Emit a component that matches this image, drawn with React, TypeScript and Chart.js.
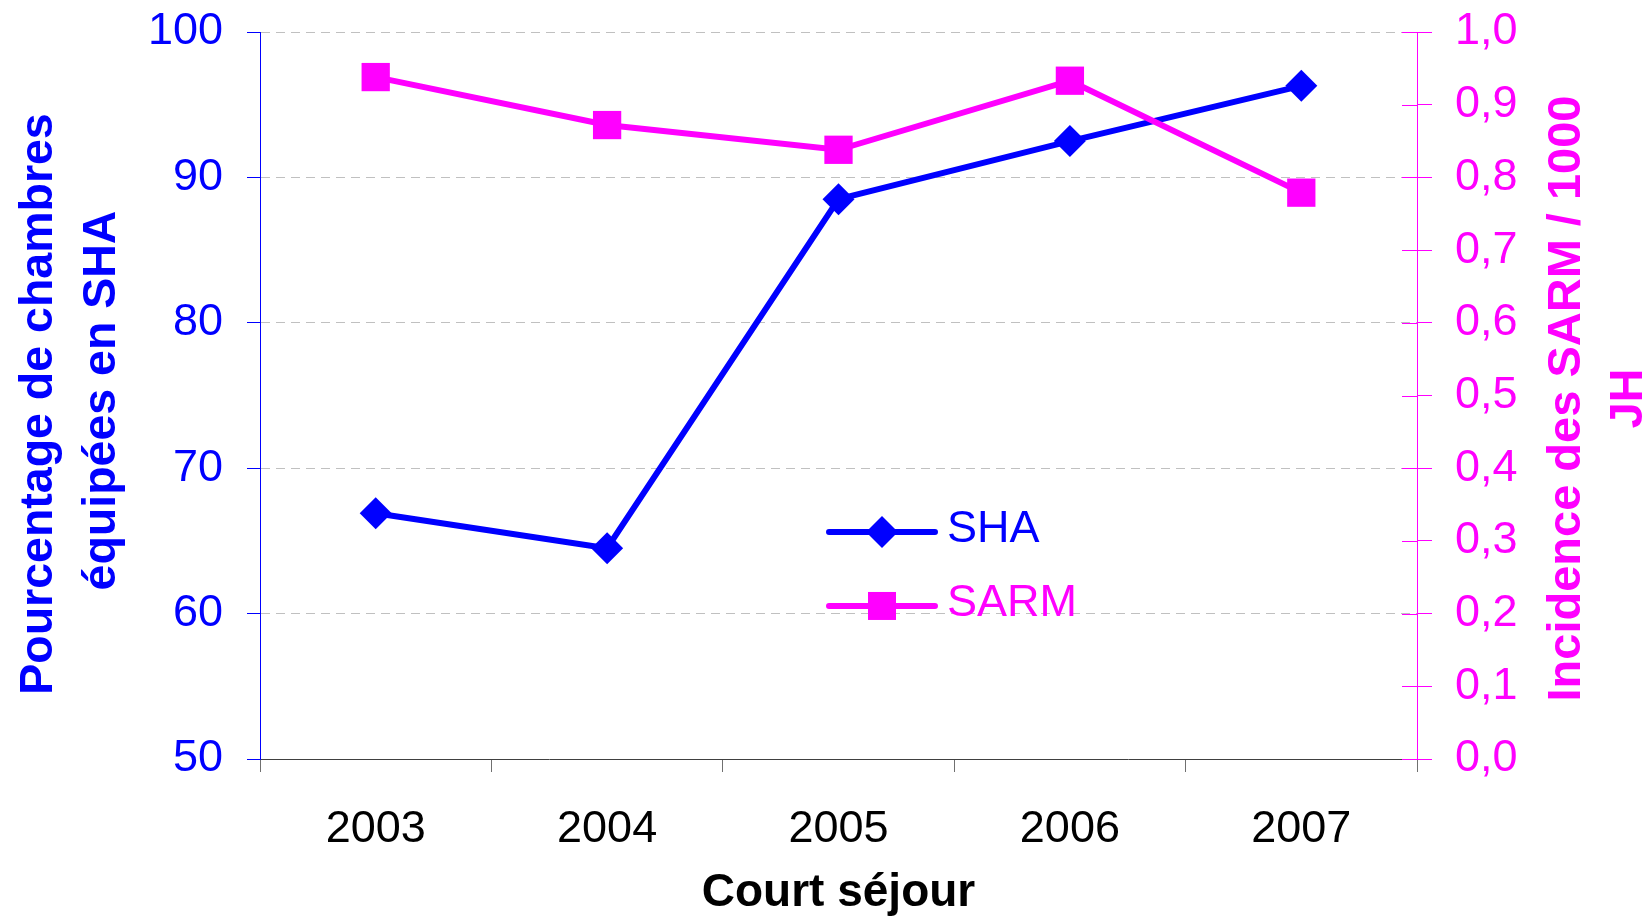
import React, { useEffect, useRef } from 'react';
import { Chart, registerables } from 'chart.js';

Chart.register(...registerables);

const categories = ['2003', '2004', '2005', '2006', '2007'];
const shaValues = [66.9, 64.5, 88.5, 92.5, 96.3];
const sarmValues = [0.938, 0.872, 0.838, 0.933, 0.779];
const seriesNames = ['SHA', 'SARM'];
const leftTitle = ['Pourcentage de chambres', 'équipées en SHA'];
const rightTitle = ['Incidence des SARM / 1000', 'JH'];
const xTitle = 'Court séjour';

const BLUE = '#0000ff';
const MAGENTA = '#ff00ff';
const FONT = "'Liberation Sans', Arial, Helvetica, sans-serif";

function zeroPadding(scale: any) {
  scale.paddingTop = 0;
  scale.paddingBottom = 0;
  scale.paddingLeft = 0;
  scale.paddingRight = 0;
}

function drawVerticalLines(ctx: any, lines: string[], baseXs: number[], centerYs: number[], color: string, font: string) {
  ctx.save();
  ctx.fillStyle = color;
  ctx.font = font;
  ctx.textAlign = 'center';
  ctx.textBaseline = 'alphabetic';
  lines.forEach((line, i) => {
    ctx.save();
    ctx.translate(baseXs[i], centerYs[i]);
    ctx.rotate(-Math.PI / 2);
    ctx.fillText(line, 0, 0);
    ctx.restore();
  });
  ctx.restore();
}

const overlayPlugin = {
  id: 'overlay',
  beforeDatasetsDraw(chart: any) {
    const { ctx, chartArea } = chart;
    const y1 = chart.scales.y1;
    ctx.save();
    ctx.strokeStyle = MAGENTA;
    ctx.lineWidth = 1;
    y1.ticks.forEach((t: any) => {
      const py = Math.round(y1.getPixelForValue(t.value)) + 0.5;
      ctx.beginPath();
      ctx.moveTo(chartArea.right - 15, py);
      ctx.lineTo(chartArea.right, py);
      ctx.stroke();
    });
    ctx.restore();
  },
  afterDatasetsDraw(chart: any) {
    const { ctx, chartArea } = chart;
    const w = chartArea.right - chartArea.left;
    const h = chartArea.bottom - chartArea.top;
    const rows = [
      { name: seriesNames[0], color: BLUE, style: 'diamond', fy: 0.6878 },
      { name: seriesNames[1], color: MAGENTA, style: 'square', fy: 0.7895 },
    ];
    ctx.save();
    rows.forEach((r) => {
      const y = chartArea.top + r.fy * h;
      const x0 = chartArea.left + 0.4918 * w;
      const x1 = chartArea.left + 0.5834 * w;
      const xm = chartArea.left + 0.5376 * w;
      const xt = chartArea.left + 0.5938 * w;
      ctx.strokeStyle = r.color;
      ctx.fillStyle = r.color;
      ctx.lineWidth = 6;
      ctx.lineCap = 'round';
      ctx.beginPath();
      ctx.moveTo(x0, y);
      ctx.lineTo(x1, y);
      ctx.stroke();
      ctx.beginPath();
      if (r.style === 'diamond') {
        ctx.moveTo(xm - 16, y);
        ctx.lineTo(xm, y - 16);
        ctx.lineTo(xm + 16, y);
        ctx.lineTo(xm, y + 16);
        ctx.closePath();
      } else {
        ctx.rect(xm - 14, y - 14, 28, 28);
      }
      ctx.fill();
      ctx.font = `45px ${FONT}`;
      ctx.textAlign = 'left';
      ctx.textBaseline = 'alphabetic';
      ctx.fillText(r.name, xt, y + 10);
    });
    ctx.restore();

    const cy = (chartArea.top + chartArea.bottom) / 2;
    // left axis title (two lines, reading bottom to top)
    drawVerticalLines(ctx, leftTitle, [chartArea.left - 208, chartArea.left - 145], [cy + 8.5, cy + 5], BLUE, `bold 46.5px ${FONT}`);
    // right axis title (two lines, reading bottom to top)
    drawVerticalLines(ctx, rightTitle, [chartArea.right + 163, chartArea.right + 225], [cy + 3, cy + 3], MAGENTA, `bold 47px ${FONT}`);
  },
};

export default function App() {
  const canvasRef = useRef<HTMLCanvasElement | null>(null);

  useEffect(() => {
    const canvas = canvasRef.current;
    if (!canvas) return;
    const chart = new Chart(canvas, {
      type: 'line',
      data: {
        labels: categories,
        datasets: [
          {
            label: seriesNames[0],
            data: shaValues,
            yAxisID: 'y',
            borderColor: BLUE,
            backgroundColor: BLUE,
            borderWidth: 6,
            pointStyle: 'rectRot',
            pointRadius: 16,
            pointHoverRadius: 16,
            pointBorderWidth: 0,
            pointBackgroundColor: BLUE,
            tension: 0,
            order: 2,
          },
          {
            label: seriesNames[1],
            data: sarmValues,
            yAxisID: 'y1',
            borderColor: MAGENTA,
            backgroundColor: MAGENTA,
            borderWidth: 6,
            pointStyle: 'rect',
            pointRadius: 20,
            pointHoverRadius: 20,
            pointBorderWidth: 0,
            pointBackgroundColor: MAGENTA,
            tension: 0,
            order: 1,
          },
        ],
      },
      options: {
        responsive: false,
        animation: false,
        layout: { padding: { top: 32, left: 0, right: 0, bottom: 0 } },
        plugins: {
          legend: { display: false },
          tooltip: { enabled: false },
          title: { display: false },
        },
        scales: {
          x: {
            type: 'category',
            offset: true,
            grid: {
              offset: true,
              drawOnChartArea: false,
              drawTicks: true,
              tickLength: 13,
              tickColor: '#707070',
              color: '#707070',
            },
            border: { display: true, color: '#404040', width: 1 },
            ticks: {
              color: '#000000',
              font: { family: FONT, size: 45 },
              padding: 31,
              maxRotation: 0,
            },
            title: {
              display: true,
              text: xTitle,
              color: '#000000',
              font: { family: FONT, size: 46, weight: 'bold', lineHeight: 1 },
              padding: { top: 0, bottom: 0 },
            },
            afterFit(scale: any) {
              scale.height = 157;
              zeroPadding(scale);
            },
          },
          y: {
            type: 'linear',
            position: 'left',
            min: 50,
            max: 100,
            ticks: {
              stepSize: 10,
              color: BLUE,
              font: { family: FONT, size: 45 },
              padding: 24,
            },
            grid: {
              drawOnChartArea: true,
              drawTicks: true,
              tickLength: 13,
              tickColor: BLUE,
              color: (c: any) => (c.tick && c.tick.value === 50 ? 'rgba(0,0,0,0)' : '#c0c0c0'),
              lineWidth: 1,
            },
            border: { display: true, color: BLUE, width: 1, dash: [9, 6] },
            title: { display: false },
            afterFit(scale: any) {
              scale.width = 260;
              zeroPadding(scale);
            },
          },
          y1: {
            type: 'linear',
            position: 'right',
            min: 0,
            max: 1,
            ticks: {
              stepSize: 0.1,
              color: MAGENTA,
              font: { family: FONT, size: 45 },
              padding: 23,
              callback: (v: any) => Number(v).toFixed(1).replace('.', ','),
            },
            grid: {
              drawOnChartArea: false,
              drawTicks: true,
              tickLength: 15,
              tickColor: MAGENTA,
              color: MAGENTA,
            },
            border: { display: true, color: MAGENTA, width: 1 },
            title: { display: false },
            afterFit(scale: any) {
              scale.width = 235;
              zeroPadding(scale);
            },
          },
        },
      },
      plugins: [overlayPlugin],
    } as any);
    return () => chart.destroy();
  }, []);

  return (
    <div style={{ position: 'absolute', left: 0, top: 0, width: 1652, height: 916, background: '#ffffff' }}>
      <canvas ref={canvasRef} width={1652} height={916} style={{ display: 'block' }} />
    </div>
  );
}
